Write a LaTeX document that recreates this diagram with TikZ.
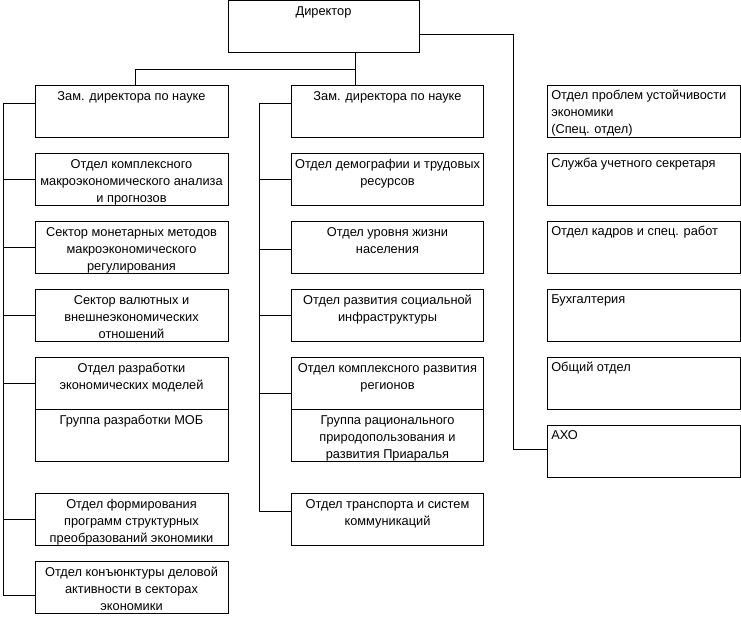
\documentclass[tikz,border=0pt]{standalone}
\usepackage{fontspec}
\setmainfont{Liberation Sans}
\usetikzlibrary{calc}
\newcommand\ctab[1]{\begin{tabular}[t]{@{}c@{}}#1\end{tabular}}
\newcommand\ltab[1]{\begin{tabular}[t]{@{}l@{}}#1\end{tabular}}
\begin{document}
\begin{tikzpicture}[x=0.75pt,y=-0.75pt,
  every node/.style={font=\fontsize{9.6}{12.9}\selectfont},
  box/.style={draw, line width=0.75pt, minimum width=144.75pt, minimum height=39pt, inner sep=0pt, outer sep=0pt},
  boxm/.style={box, minimum width=144pt},
  txt/.style={anchor=base, inner sep=0pt},
  ltxt/.style={anchor=base west, inner sep=0pt},
  conn/.style={draw, line width=0.75pt}]
\fill[white] (0,0) rectangle (741,615);
% director
\node[box, minimum width=143.25pt] (dir) at (323.5,26.5) {};
\node[txt] (tdir) at ($(dir.north)+(0,15)$) {Директор};
% column 1
\node[box] (c1a) at (131.5,111) {};
\node[box] (c1b) at (131.5,179) {};
\node[box] (c1c) at (131.5,247) {};
\node[box] (c1d) at (131.5,315) {};
\node[box] (c1e) at (131.5,383) {};
\node[box] (c1x) at (131.5,435) {};
\node[box] (c1f) at (131.5,519) {};
\node[box] (c1g) at (131.5,587.5) {};
\node[txt] (t1a) at ($(c1a.north)+(0,15)$) {\ctab{Зам. директора по науке}};
\node[txt] (t1b) at ($(c1b.north)+(0,15)$) {\ctab{Отдел комплексного\\макроэкономического анализа\\и прогнозов}};
\node[txt] (t1c) at ($(c1c.north)+(0,15)$) {\ctab{Сектор монетарных методов\\макроэкономического\\регулирования}};
\node[txt] (t1d) at ($(c1d.north)+(0,15)$) {\ctab{Сектор валютных и\\внешнеэкономических\\отношений}};
\node[txt] (t1e) at ($(c1e.north)+(0,15)$) {\ctab{Отдел разработки\\экономических моделей}};
\node[txt] (t1x) at ($(c1x.north)+(0,15)$) {\ctab{Группа разработки МОБ}};
\node[txt] (t1f) at ($(c1f.north)+(0,15)$) {\ctab{Отдел формирования\\программ структурных\\преобразований экономики}};
\node[txt] (t1g) at ($(c1g.north)+(0,15)$) {\ctab{Отдел конъюнктуры деловой\\активности в секторах\\экономики}};
% column 2
\node[boxm] (c2a) at (387.5,111) {};
\node[boxm] (c2b) at (387.5,179) {};
\node[boxm] (c2c) at (387.5,247) {};
\node[boxm] (c2d) at (387.5,315) {};
\node[boxm] (c2e) at (387.5,383) {};
\node[boxm] (c2x) at (387.5,435) {};
\node[boxm] (c2f) at (387.5,519) {};
\node[txt] (t2a) at ($(c2a.north)+(0,15)$) {\ctab{Зам. директора по науке}};
\node[txt] (t2b) at ($(c2b.north)+(0,15)$) {\ctab{Отдел демографии и трудовых\\ресурсов}};
\node[txt] (t2c) at ($(c2c.north)+(0,15)$) {\ctab{Отдел уровня жизни\\населения}};
\node[txt] (t2d) at ($(c2d.north)+(0,15)$) {\ctab{Отдел развития социальной\\инфраструктуры}};
\node[txt] (t2e) at ($(c2e.north)+(0,15)$) {\ctab{Отдел комплексного развития\\регионов}};
\node[txt] (t2x) at ($(c2x.north)+(0,15)$) {\ctab{Группа рационального\\природопользования и\\развития Приаралья}};
\node[txt] (t2f) at ($(c2f.north)+(0,15)$) {\ctab{Отдел транспорта и систем\\коммуникаций}};
% column 3
\node[box] (c3a) at (643.5,111) {};
\node[box] (c3b) at (643.5,179) {};
\node[box] (c3c) at (643.5,247) {};
\node[box] (c3d) at (643.5,315) {};
\node[box] (c3e) at (643.5,383) {};
\node[box] (c3f) at (643.5,451) {};
\node[ltxt] (t3a) at ($(c3a.north west)+(4,14)$) {\ltab{Отдел проблем устойчивости\\экономики\\(Спец. отдел)}};
\node[ltxt] (t3b) at ($(c3b.north west)+(4,14)$) {\ltab{Служба учетного секретаря}};
\node[ltxt] (t3c) at ($(c3c.north west)+(4,14)$) {\ltab{Отдел кадров и спец. работ}};
\node[ltxt] (t3d) at ($(c3d.north west)+(4,14)$) {\ltab{Бухгалтерия}};
\node[ltxt] (t3e) at ($(c3e.north west)+(4,14)$) {\ltab{Общий отдел}};
\node[ltxt] (t3f) at ($(c3f.north west)+(4,14)$) {\ltab{АХО}};
% connectors from director
\coordinate (j) at (355.5,69);
\coordinate (k) at (135,69);
\draw[conn] (j |- dir.south) -- (j |- c2a.north);
\draw[conn] (j) -- (k) -- (k |- c1a.north);
\coordinate (r) at (513,34);
\draw[conn] (dir.east |- r) -- (r) |- ($(c3f.west)+(0,-2)$);
% column 1 spine
\coordinate (s1) at (3,103);
\coordinate (s1e) at (3,595);
\draw[conn] (c1a.west |- s1) -- (s1) -- (s1e) -- (s1e -| c1g.west);
\foreach \n in {c1b,c1c,c1d,c1e,c1f} \draw[conn] (s1 |- \n.west) -- (\n.west);
% column 2 spine
\coordinate (s2) at (259,103);
\coordinate (s2e) at (259,511);
\draw[conn] (c2a.west |- s2) -- (s2) -- (s2e) -- (s2e -| c2f.west);
\draw[conn] (s2 |- c2b.west) -- (c2b.west);
\draw[conn] ($(s2 |- c2c.west)+(0,2)$) -- ($(c2c.west)+(0,2)$);
\draw[conn] (s2 |- c2d.west) -- (c2d.west);
\draw[conn] ($(s2 |- c2e.west)+(0,10)$) -- ($(c2e.west)+(0,10)$);
\end{tikzpicture}
\end{document}
